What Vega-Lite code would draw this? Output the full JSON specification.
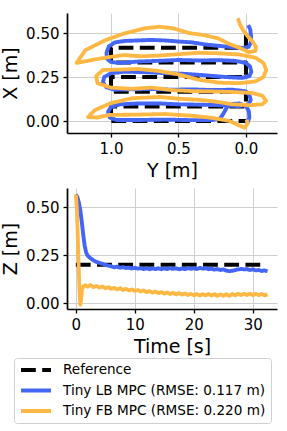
{
  "$schema": "https://vega.github.io/schema/vega-lite/v6.json",
  "autosize": {"type": "none"},
  "padding": {"left": 67, "top": 13, "right": 10, "bottom": 418},
  "background": "white",
  "bounds": "flush",
  "spacing": 55,
  "config": {
    "font": "DejaVu Sans",
    "view": {"stroke": null},
    "axis": {
      "domainColor": "black", "domainWidth": 1.7, "tickColor": "black", "tickWidth": 1.3, "tickSize": 4,
      "labelFont": "DejaVu Sans", "labelFontSize": 15, "labelColor": "black", "labelPadding": 4,
      "titleFont": "DejaVu Sans", "titleFontSize": 19, "titleFontWeight": "normal", "titleColor": "black", "titlePadding": 5,
      "gridColor": "#cfcfcf", "gridWidth": 1
    }
  },
  "datasets": {
    "xy": [
      {"s": "ref", "i": 0, "Y": 0, "X": 0.5},
      {"s": "ref", "i": 1, "Y": 0, "X": 0.4167},
      {"s": "ref", "i": 2, "Y": 1, "X": 0.4167},
      {"s": "ref", "i": 3, "Y": 1, "X": 0.3333},
      {"s": "ref", "i": 4, "Y": 0, "X": 0.3333},
      {"s": "ref", "i": 5, "Y": 0, "X": 0.25},
      {"s": "ref", "i": 6, "Y": 1, "X": 0.25},
      {"s": "ref", "i": 7, "Y": 1, "X": 0.1667},
      {"s": "ref", "i": 8, "Y": 0, "X": 0.1667},
      {"s": "ref", "i": 9, "Y": 0, "X": 0.0833},
      {"s": "ref", "i": 10, "Y": 1, "X": 0.0833},
      {"s": "ref", "i": 11, "Y": 1, "X": 0},
      {"s": "ref", "i": 12, "Y": 0, "X": 0},
      {"s": "lb", "i": 0, "Y": -0.017, "X": 0.545},
      {"s": "lb", "i": 1, "Y": -0.032, "X": 0.52},
      {"s": "lb", "i": 2, "Y": -0.038, "X": 0.48},
      {"s": "lb", "i": 3, "Y": -0.036, "X": 0.445},
      {"s": "lb", "i": 4, "Y": -0.02, "X": 0.422},
      {"s": "lb", "i": 5, "Y": 0.02, "X": 0.415},
      {"s": "lb", "i": 6, "Y": 0.1, "X": 0.42},
      {"s": "lb", "i": 7, "Y": 0.2, "X": 0.427},
      {"s": "lb", "i": 8, "Y": 0.3, "X": 0.435},
      {"s": "lb", "i": 9, "Y": 0.4, "X": 0.447},
      {"s": "lb", "i": 10, "Y": 0.5, "X": 0.452},
      {"s": "lb", "i": 11, "Y": 0.6, "X": 0.458},
      {"s": "lb", "i": 12, "Y": 0.7, "X": 0.461},
      {"s": "lb", "i": 13, "Y": 0.8, "X": 0.458},
      {"s": "lb", "i": 14, "Y": 0.9, "X": 0.455},
      {"s": "lb", "i": 15, "Y": 0.97, "X": 0.447},
      {"s": "lb", "i": 16, "Y": 1.015, "X": 0.425},
      {"s": "lb", "i": 17, "Y": 1.033, "X": 0.39},
      {"s": "lb", "i": 18, "Y": 1.03, "X": 0.355},
      {"s": "lb", "i": 19, "Y": 1.0, "X": 0.335},
      {"s": "lb", "i": 20, "Y": 0.93, "X": 0.33},
      {"s": "lb", "i": 21, "Y": 0.8, "X": 0.338},
      {"s": "lb", "i": 22, "Y": 0.65, "X": 0.342},
      {"s": "lb", "i": 23, "Y": 0.5, "X": 0.347},
      {"s": "lb", "i": 24, "Y": 0.35, "X": 0.344},
      {"s": "lb", "i": 25, "Y": 0.2, "X": 0.346},
      {"s": "lb", "i": 26, "Y": 0.08, "X": 0.342},
      {"s": "lb", "i": 27, "Y": 0.0, "X": 0.33},
      {"s": "lb", "i": 28, "Y": -0.03, "X": 0.31},
      {"s": "lb", "i": 29, "Y": -0.04, "X": 0.28},
      {"s": "lb", "i": 30, "Y": -0.025, "X": 0.255},
      {"s": "lb", "i": 31, "Y": 0.03, "X": 0.245},
      {"s": "lb", "i": 32, "Y": 0.15, "X": 0.25},
      {"s": "lb", "i": 33, "Y": 0.3, "X": 0.26},
      {"s": "lb", "i": 34, "Y": 0.45, "X": 0.268},
      {"s": "lb", "i": 35, "Y": 0.6, "X": 0.272},
      {"s": "lb", "i": 36, "Y": 0.75, "X": 0.278},
      {"s": "lb", "i": 37, "Y": 0.9, "X": 0.28},
      {"s": "lb", "i": 38, "Y": 1.0, "X": 0.272},
      {"s": "lb", "i": 39, "Y": 1.05, "X": 0.25},
      {"s": "lb", "i": 40, "Y": 1.06, "X": 0.22},
      {"s": "lb", "i": 41, "Y": 1.035, "X": 0.192},
      {"s": "lb", "i": 42, "Y": 0.97, "X": 0.178},
      {"s": "lb", "i": 43, "Y": 0.85, "X": 0.18},
      {"s": "lb", "i": 44, "Y": 0.7, "X": 0.182},
      {"s": "lb", "i": 45, "Y": 0.55, "X": 0.178},
      {"s": "lb", "i": 46, "Y": 0.4, "X": 0.18},
      {"s": "lb", "i": 47, "Y": 0.25, "X": 0.176},
      {"s": "lb", "i": 48, "Y": 0.1, "X": 0.178},
      {"s": "lb", "i": 49, "Y": 0.01, "X": 0.17},
      {"s": "lb", "i": 50, "Y": -0.025, "X": 0.15},
      {"s": "lb", "i": 51, "Y": -0.035, "X": 0.12},
      {"s": "lb", "i": 52, "Y": -0.02, "X": 0.095},
      {"s": "lb", "i": 53, "Y": 0.05, "X": 0.085},
      {"s": "lb", "i": 54, "Y": 0.2, "X": 0.09},
      {"s": "lb", "i": 55, "Y": 0.35, "X": 0.093},
      {"s": "lb", "i": 56, "Y": 0.5, "X": 0.095},
      {"s": "lb", "i": 57, "Y": 0.65, "X": 0.1},
      {"s": "lb", "i": 58, "Y": 0.8, "X": 0.1},
      {"s": "lb", "i": 59, "Y": 0.93, "X": 0.095},
      {"s": "lb", "i": 60, "Y": 1.0, "X": 0.08},
      {"s": "lb", "i": 61, "Y": 1.022, "X": 0.053},
      {"s": "lb", "i": 62, "Y": 1.01, "X": 0.02},
      {"s": "lb", "i": 63, "Y": 0.96, "X": 0.006},
      {"s": "lb", "i": 64, "Y": 0.8, "X": 0.006},
      {"s": "lb", "i": 65, "Y": 0.6, "X": 0.008},
      {"s": "lb", "i": 66, "Y": 0.4, "X": 0.005},
      {"s": "lb", "i": 67, "Y": 0.25, "X": 0.006},
      {"s": "lb", "i": 68, "Y": 0.19, "X": 0.015},
      {"s": "lb", "i": 69, "Y": 0.165, "X": 0.045},
      {"s": "lb", "i": 70, "Y": 0.14, "X": 0.08},
      {"s": "lb", "i": 71, "Y": 0.1, "X": 0.097},
      {"s": "lb", "i": 72, "Y": 0.05, "X": 0.1},
      {"s": "lb", "i": 73, "Y": 0.0, "X": 0.085},
      {"s": "lb", "i": 74, "Y": -0.022, "X": 0.055},
      {"s": "lb", "i": 75, "Y": -0.025, "X": 0.02},
      {"s": "lb", "i": 76, "Y": -0.01, "X": -0.012},
      {"s": "fb", "i": 0, "Y": 0.06, "X": 0.585},
      {"s": "fb", "i": 1, "Y": 0.045, "X": 0.55},
      {"s": "fb", "i": 2, "Y": 0.02, "X": 0.515},
      {"s": "fb", "i": 3, "Y": -0.015, "X": 0.48},
      {"s": "fb", "i": 4, "Y": -0.05, "X": 0.45},
      {"s": "fb", "i": 5, "Y": -0.075, "X": 0.42},
      {"s": "fb", "i": 6, "Y": -0.07, "X": 0.398},
      {"s": "fb", "i": 7, "Y": -0.02, "X": 0.392},
      {"s": "fb", "i": 8, "Y": 0.06, "X": 0.42},
      {"s": "fb", "i": 9, "Y": 0.13, "X": 0.44},
      {"s": "fb", "i": 10, "Y": 0.2, "X": 0.468},
      {"s": "fb", "i": 11, "Y": 0.3, "X": 0.487},
      {"s": "fb", "i": 12, "Y": 0.42, "X": 0.5},
      {"s": "fb", "i": 13, "Y": 0.54, "X": 0.527},
      {"s": "fb", "i": 14, "Y": 0.64, "X": 0.536},
      {"s": "fb", "i": 15, "Y": 0.75, "X": 0.527},
      {"s": "fb", "i": 16, "Y": 0.9, "X": 0.498},
      {"s": "fb", "i": 17, "Y": 1.04, "X": 0.46},
      {"s": "fb", "i": 18, "Y": 1.19, "X": 0.403},
      {"s": "fb", "i": 19, "Y": 1.255, "X": 0.33},
      {"s": "fb", "i": 20, "Y": 1.14, "X": 0.347},
      {"s": "fb", "i": 21, "Y": 1.02, "X": 0.363},
      {"s": "fb", "i": 22, "Y": 0.9, "X": 0.375},
      {"s": "fb", "i": 23, "Y": 0.78, "X": 0.368},
      {"s": "fb", "i": 24, "Y": 0.65, "X": 0.372},
      {"s": "fb", "i": 25, "Y": 0.5, "X": 0.38},
      {"s": "fb", "i": 26, "Y": 0.35, "X": 0.388},
      {"s": "fb", "i": 27, "Y": 0.2, "X": 0.385},
      {"s": "fb", "i": 28, "Y": 0.05, "X": 0.378},
      {"s": "fb", "i": 29, "Y": -0.07, "X": 0.36},
      {"s": "fb", "i": 30, "Y": -0.13, "X": 0.33},
      {"s": "fb", "i": 31, "Y": -0.15, "X": 0.29},
      {"s": "fb", "i": 32, "Y": -0.13, "X": 0.25},
      {"s": "fb", "i": 33, "Y": -0.07, "X": 0.225},
      {"s": "fb", "i": 34, "Y": 0.05, "X": 0.215},
      {"s": "fb", "i": 35, "Y": 0.2, "X": 0.218},
      {"s": "fb", "i": 36, "Y": 0.35, "X": 0.235},
      {"s": "fb", "i": 37, "Y": 0.5, "X": 0.265},
      {"s": "fb", "i": 38, "Y": 0.65, "X": 0.285},
      {"s": "fb", "i": 39, "Y": 0.8, "X": 0.296},
      {"s": "fb", "i": 40, "Y": 0.95, "X": 0.292},
      {"s": "fb", "i": 41, "Y": 1.06, "X": 0.29},
      {"s": "fb", "i": 42, "Y": 1.11, "X": 0.255},
      {"s": "fb", "i": 43, "Y": 1.1, "X": 0.215},
      {"s": "fb", "i": 44, "Y": 1.0, "X": 0.19},
      {"s": "fb", "i": 45, "Y": 0.85, "X": 0.183},
      {"s": "fb", "i": 46, "Y": 0.7, "X": 0.19},
      {"s": "fb", "i": 47, "Y": 0.55, "X": 0.176},
      {"s": "fb", "i": 48, "Y": 0.4, "X": 0.17},
      {"s": "fb", "i": 49, "Y": 0.25, "X": 0.168},
      {"s": "fb", "i": 50, "Y": 0.1, "X": 0.165},
      {"s": "fb", "i": 51, "Y": -0.04, "X": 0.16},
      {"s": "fb", "i": 52, "Y": -0.12, "X": 0.145},
      {"s": "fb", "i": 53, "Y": -0.15, "X": 0.115},
      {"s": "fb", "i": 54, "Y": -0.12, "X": 0.095},
      {"s": "fb", "i": 55, "Y": -0.03, "X": 0.09},
      {"s": "fb", "i": 56, "Y": 0.1, "X": 0.095},
      {"s": "fb", "i": 57, "Y": 0.22, "X": 0.11},
      {"s": "fb", "i": 58, "Y": 0.34, "X": 0.12},
      {"s": "fb", "i": 59, "Y": 0.5, "X": 0.127},
      {"s": "fb", "i": 60, "Y": 0.64, "X": 0.137},
      {"s": "fb", "i": 61, "Y": 0.84, "X": 0.13},
      {"s": "fb", "i": 62, "Y": 1.0, "X": 0.102},
      {"s": "fb", "i": 63, "Y": 1.12, "X": 0.062},
      {"s": "fb", "i": 64, "Y": 1.17, "X": 0.022},
      {"s": "fb", "i": 65, "Y": 1.1, "X": 0.02},
      {"s": "fb", "i": 66, "Y": 1.01, "X": 0.035},
      {"s": "fb", "i": 67, "Y": 0.84, "X": 0.036},
      {"s": "fb", "i": 68, "Y": 0.6, "X": 0.04},
      {"s": "fb", "i": 69, "Y": 0.4, "X": 0.03},
      {"s": "fb", "i": 70, "Y": 0.25, "X": 0.018},
      {"s": "fb", "i": 71, "Y": 0.12, "X": 0.0},
      {"s": "fb", "i": 72, "Y": 0.05, "X": -0.025},
      {"s": "fb", "i": 73, "Y": 0.01, "X": -0.038},
      {"s": "fb", "i": 74, "Y": -0.012, "X": -0.015},
      {"s": "fb", "i": 75, "Y": -0.005, "X": 0.008}
    ],
    "tz": [
      {"s": "ref", "t": 0, "z": 0.2},
      {"s": "ref", "t": 32, "z": 0.2},
      {"s": "lb", "t": 0, "z": 0.565},
      {"s": "lb", "t": 0.25, "z": 0.552},
      {"s": "lb", "t": 0.5, "z": 0.525},
      {"s": "lb", "t": 0.75, "z": 0.485},
      {"s": "lb", "t": 1.0, "z": 0.425},
      {"s": "lb", "t": 1.25, "z": 0.355},
      {"s": "lb", "t": 1.5, "z": 0.298},
      {"s": "lb", "t": 1.75, "z": 0.263},
      {"s": "lb", "t": 2.0, "z": 0.247},
      {"s": "lb", "t": 2.5, "z": 0.233},
      {"s": "lb", "t": 3.0, "z": 0.222},
      {"s": "lb", "t": 3.5, "z": 0.214},
      {"s": "lb", "t": 4.0, "z": 0.209},
      {"s": "lb", "t": 4.5, "z": 0.204},
      {"s": "lb", "t": 5.0, "z": 0.199},
      {"s": "lb", "t": 5.5, "z": 0.195},
      {"s": "lb", "t": 6.0, "z": 0.191},
      {"s": "lb", "t": 6.5, "z": 0.186},
      {"s": "lb", "t": 7.0, "z": 0.189},
      {"s": "lb", "t": 7.5, "z": 0.184},
      {"s": "lb", "t": 8.0, "z": 0.187},
      {"s": "lb", "t": 8.5, "z": 0.182},
      {"s": "lb", "t": 9.0, "z": 0.185},
      {"s": "lb", "t": 9.5, "z": 0.18},
      {"s": "lb", "t": 10.0, "z": 0.184},
      {"s": "lb", "t": 10.5, "z": 0.179},
      {"s": "lb", "t": 11.0, "z": 0.182},
      {"s": "lb", "t": 11.5, "z": 0.177},
      {"s": "lb", "t": 12.0, "z": 0.181},
      {"s": "lb", "t": 12.5, "z": 0.176},
      {"s": "lb", "t": 13.0, "z": 0.18},
      {"s": "lb", "t": 13.5, "z": 0.177},
      {"s": "lb", "t": 14.0, "z": 0.181},
      {"s": "lb", "t": 14.5, "z": 0.176},
      {"s": "lb", "t": 15.0, "z": 0.18},
      {"s": "lb", "t": 15.5, "z": 0.177},
      {"s": "lb", "t": 16.0, "z": 0.182},
      {"s": "lb", "t": 16.5, "z": 0.178},
      {"s": "lb", "t": 17.0, "z": 0.181},
      {"s": "lb", "t": 17.5, "z": 0.176},
      {"s": "lb", "t": 18.0, "z": 0.18},
      {"s": "lb", "t": 18.5, "z": 0.177},
      {"s": "lb", "t": 19.0, "z": 0.182},
      {"s": "lb", "t": 19.5, "z": 0.178},
      {"s": "lb", "t": 20.0, "z": 0.181},
      {"s": "lb", "t": 20.5, "z": 0.177},
      {"s": "lb", "t": 21.0, "z": 0.183},
      {"s": "lb", "t": 21.5, "z": 0.179},
      {"s": "lb", "t": 22.0, "z": 0.181},
      {"s": "lb", "t": 22.5, "z": 0.176},
      {"s": "lb", "t": 23.0, "z": 0.179},
      {"s": "lb", "t": 23.5, "z": 0.174},
      {"s": "lb", "t": 24.0, "z": 0.177},
      {"s": "lb", "t": 24.5, "z": 0.172},
      {"s": "lb", "t": 25.0, "z": 0.175},
      {"s": "lb", "t": 25.5, "z": 0.169},
      {"s": "lb", "t": 26.0, "z": 0.166},
      {"s": "lb", "t": 26.5, "z": 0.168},
      {"s": "lb", "t": 27.0, "z": 0.172},
      {"s": "lb", "t": 27.5, "z": 0.175},
      {"s": "lb", "t": 28.0, "z": 0.178},
      {"s": "lb", "t": 28.5, "z": 0.175},
      {"s": "lb", "t": 29.0, "z": 0.177},
      {"s": "lb", "t": 29.5, "z": 0.172},
      {"s": "lb", "t": 30.0, "z": 0.175},
      {"s": "lb", "t": 30.5, "z": 0.17},
      {"s": "lb", "t": 31.0, "z": 0.172},
      {"s": "lb", "t": 31.5, "z": 0.167},
      {"s": "lb", "t": 32.0, "z": 0.17},
      {"s": "lb", "t": 32.5, "z": 0.166},
      {"s": "fb", "t": 0, "z": 0.565},
      {"s": "fb", "t": 0.15, "z": 0.5},
      {"s": "fb", "t": 0.3, "z": 0.38},
      {"s": "fb", "t": 0.45, "z": 0.22},
      {"s": "fb", "t": 0.6, "z": 0.08},
      {"s": "fb", "t": 0.75, "z": -0.008},
      {"s": "fb", "t": 0.9, "z": 0.02},
      {"s": "fb", "t": 1.05, "z": 0.07},
      {"s": "fb", "t": 1.3, "z": 0.088},
      {"s": "fb", "t": 1.6, "z": 0.093},
      {"s": "fb", "t": 2.0, "z": 0.085},
      {"s": "fb", "t": 2.5, "z": 0.094},
      {"s": "fb", "t": 3.0, "z": 0.083},
      {"s": "fb", "t": 3.5, "z": 0.089},
      {"s": "fb", "t": 4.0, "z": 0.08},
      {"s": "fb", "t": 4.5, "z": 0.086},
      {"s": "fb", "t": 5.0, "z": 0.077},
      {"s": "fb", "t": 5.5, "z": 0.083},
      {"s": "fb", "t": 6.0, "z": 0.074},
      {"s": "fb", "t": 6.5, "z": 0.079},
      {"s": "fb", "t": 7.0, "z": 0.071},
      {"s": "fb", "t": 7.5, "z": 0.077},
      {"s": "fb", "t": 8.0, "z": 0.068},
      {"s": "fb", "t": 8.5, "z": 0.074},
      {"s": "fb", "t": 9.0, "z": 0.066},
      {"s": "fb", "t": 9.5, "z": 0.071},
      {"s": "fb", "t": 10.0, "z": 0.063},
      {"s": "fb", "t": 10.5, "z": 0.068},
      {"s": "fb", "t": 11.0, "z": 0.06},
      {"s": "fb", "t": 11.5, "z": 0.066},
      {"s": "fb", "t": 12.0, "z": 0.057},
      {"s": "fb", "t": 12.5, "z": 0.062},
      {"s": "fb", "t": 13.0, "z": 0.054},
      {"s": "fb", "t": 13.5, "z": 0.06},
      {"s": "fb", "t": 14.0, "z": 0.052},
      {"s": "fb", "t": 14.5, "z": 0.057},
      {"s": "fb", "t": 15.0, "z": 0.049},
      {"s": "fb", "t": 15.5, "z": 0.055},
      {"s": "fb", "t": 16.0, "z": 0.047},
      {"s": "fb", "t": 16.5, "z": 0.053},
      {"s": "fb", "t": 17.0, "z": 0.045},
      {"s": "fb", "t": 17.5, "z": 0.052},
      {"s": "fb", "t": 18.0, "z": 0.044},
      {"s": "fb", "t": 18.5, "z": 0.05},
      {"s": "fb", "t": 19.0, "z": 0.042},
      {"s": "fb", "t": 19.5, "z": 0.048},
      {"s": "fb", "t": 20.0, "z": 0.04},
      {"s": "fb", "t": 20.5, "z": 0.047},
      {"s": "fb", "t": 21.0, "z": 0.039},
      {"s": "fb", "t": 21.5, "z": 0.046},
      {"s": "fb", "t": 22.0, "z": 0.04},
      {"s": "fb", "t": 22.5, "z": 0.047},
      {"s": "fb", "t": 23.0, "z": 0.039},
      {"s": "fb", "t": 23.5, "z": 0.046},
      {"s": "fb", "t": 24.0, "z": 0.038},
      {"s": "fb", "t": 24.5, "z": 0.045},
      {"s": "fb", "t": 25.0, "z": 0.038},
      {"s": "fb", "t": 25.5, "z": 0.046},
      {"s": "fb", "t": 26.0, "z": 0.037},
      {"s": "fb", "t": 26.5, "z": 0.047},
      {"s": "fb", "t": 27.0, "z": 0.04},
      {"s": "fb", "t": 27.5, "z": 0.049},
      {"s": "fb", "t": 28.0, "z": 0.041},
      {"s": "fb", "t": 28.5, "z": 0.049},
      {"s": "fb", "t": 29.0, "z": 0.042},
      {"s": "fb", "t": 29.5, "z": 0.049},
      {"s": "fb", "t": 30.0, "z": 0.041},
      {"s": "fb", "t": 30.5, "z": 0.048},
      {"s": "fb", "t": 31.0, "z": 0.041},
      {"s": "fb", "t": 31.5, "z": 0.047},
      {"s": "fb", "t": 32.0, "z": 0.04},
      {"s": "fb", "t": 32.5, "z": 0.045}
    ]
  },
  "vconcat": [
    {
      "width": 210,
      "height": 120,
      "data": {"name": "xy"},
      "mark": {"type": "line", "strokeCap": "butt", "strokeJoin": "round"},
      "encoding": {
        "x": {"field": "Y", "type": "quantitative", "scale": {"domain": [-0.23, 1.326], "reverse": true, "nice": false, "zero": false},
              "axis": {"title": "Y [m]", "values": [0, 0.5, 1.0], "format": ".1f"}},
        "y": {"field": "X", "type": "quantitative", "scale": {"domain": [-0.068, 0.614], "nice": false, "zero": false},
              "axis": {"title": "X [m]", "values": [0, 0.25, 0.5], "format": ".2f"}},
        "order": {"field": "i", "type": "quantitative"},
        "color": {"field": "s", "type": "nominal",
                  "scale": {"domain": ["ref", "lb", "fb"], "range": ["#000000", "#4466f7", "#ffb844"]},
                  "legend": {"title": null, "orient": "none", "legendX": -53, "legendY": 345,
                             "labelExpr": "datum.value == 'ref' ? 'Reference' : datum.value == 'lb' ? 'Tiny LB MPC (RMSE: 0.117 m)' : 'Tiny FB MPC (RMSE: 0.220 m)'",
                             "padding": 5, "strokeColor": "#d0d0d0", "cornerRadius": 3, "fillColor": "white",
                             "labelFont": "DejaVu Sans", "labelFontSize": 13.6, "labelColor": "black", "labelLimit": 400,
                             "symbolType": "stroke", "symbolSize": 900, "symbolStrokeWidth": 4, "clipHeight": 14, "rowPadding": 6.5, "labelOffset": 10}},
        "strokeDash": {"field": "s", "type": "nominal",
                  "scale": {"domain": ["ref", "lb", "fb"], "range": [[14.8, 6.4], [1, 0], [1, 0]]},
                  "legend": {"title": null, "orient": "none", "legendX": -53, "legendY": 345,
                             "labelExpr": "datum.value == 'ref' ? 'Reference' : datum.value == 'lb' ? 'Tiny LB MPC (RMSE: 0.117 m)' : 'Tiny FB MPC (RMSE: 0.220 m)'",
                             "padding": 5, "strokeColor": "#d0d0d0", "cornerRadius": 3, "fillColor": "white",
                             "labelFont": "DejaVu Sans", "labelFontSize": 13.6, "labelColor": "black", "labelLimit": 400,
                             "symbolType": "stroke", "symbolSize": 900, "symbolStrokeWidth": 4, "clipHeight": 14, "rowPadding": 6.5, "labelOffset": 10}},
        "strokeWidth": {"field": "s", "type": "nominal", "scale": {"domain": ["ref", "lb", "fb"], "range": [4, 3.8, 3.8]}, "legend": null}
      }
    },
    {
      "width": 210,
      "height": 121,
      "data": {"name": "tz"},
      "mark": {"type": "line", "strokeCap": "butt", "strokeJoin": "round"},
      "encoding": {
        "x": {"field": "t", "type": "quantitative", "scale": {"domain": [-1.5, 34.1], "nice": false, "zero": false},
              "axis": {"title": "Time [s]", "values": [0, 10, 20, 30], "format": "d"}},
        "y": {"field": "z", "type": "quantitative", "scale": {"domain": [-0.031, 0.599], "nice": false, "zero": false},
              "axis": {"title": "Z [m]", "values": [0, 0.25, 0.5], "format": ".2f"}},
        "order": {"field": "t", "type": "quantitative"},
        "color": {"field": "s", "type": "nominal",
                  "scale": {"domain": ["ref", "lb", "fb"], "range": ["#000000", "#4466f7", "#ffb844"]}},
        "strokeDash": {"field": "s", "type": "nominal",
                  "scale": {"domain": ["ref", "lb", "fb"], "range": [[14.8, 6.4], [1, 0], [1, 0]]}},
        "strokeWidth": {"field": "s", "type": "nominal", "scale": {"domain": ["ref", "lb", "fb"], "range": [4, 3.8, 3.8]}, "legend": null}
      }
    }
  ]
}
